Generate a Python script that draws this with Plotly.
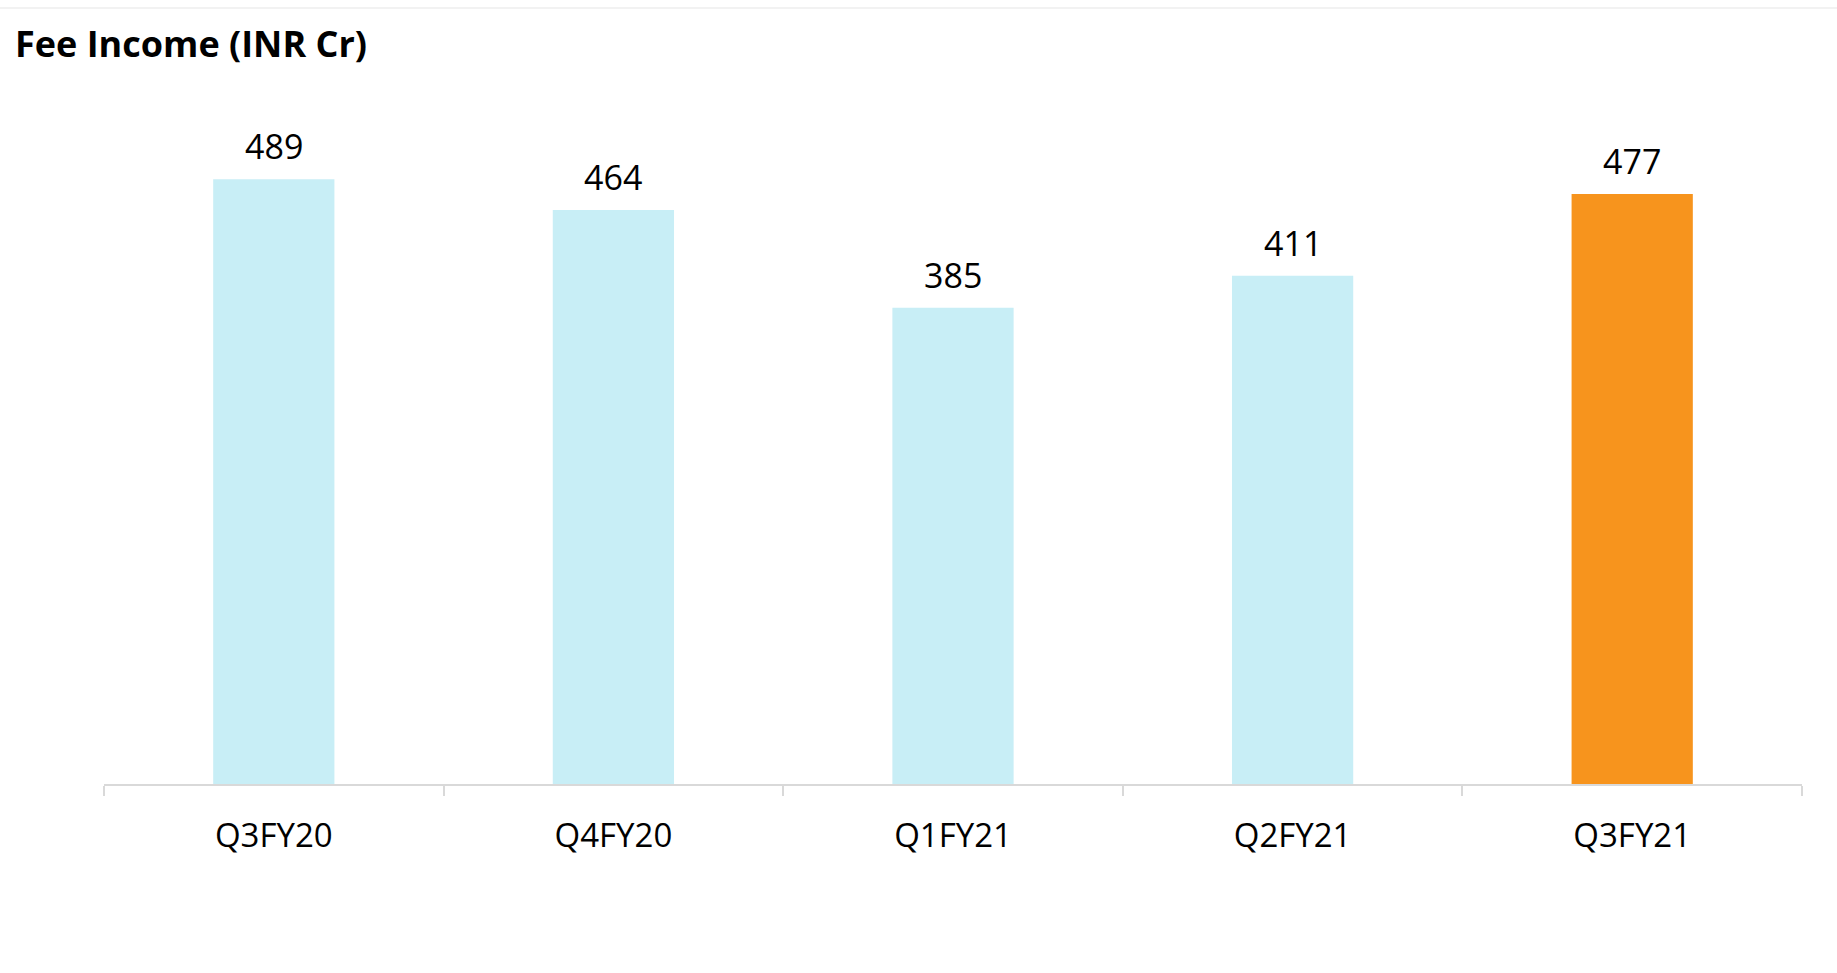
import plotly.graph_objects as go

categories = ["Q3FY20", "Q4FY20", "Q1FY21", "Q2FY21", "Q3FY21"]
values = [489, 464, 385, 411, 477]
colors = ["#C8EEF6", "#C8EEF6", "#C8EEF6", "#C8EEF6", "#F7941D"]
title_text = "Fee Income (INR Cr)"

fig = go.Figure(go.Bar(
    x=categories, y=values, marker_color=colors, marker_line_width=0,
    width=0.357, hoverinfo="skip",
))

for c, v in zip(categories, values):
    fig.add_annotation(x=c, y=v, text=str(v), showarrow=False, yanchor="bottom",
                       yshift=8, font=dict(family="Open Sans", size=34, color="#000000"))

fig.update_layout(
    width=1837, height=973,
    margin=dict(l=104, r=35, t=100, b=189),
    paper_bgcolor="white", plot_bgcolor="white",
    showlegend=False,
    title=dict(text="<b>" + title_text + "</b>", x=15/1837, xanchor="left", xref="container",
               y=1-44/973, yanchor="middle", yref="container",
               font=dict(family="Open Sans", size=36, color="#000000")),
    bargap=0.643,
)
fig.update_xaxes(
    showline=True, linecolor="#D9D9D9", linewidth=2,
    ticks="outside", ticklen=10, tickcolor="#D9D9D9", tickwidth=2,
    tickson="boundaries", ticklabelstandoff=21,
    tickfont=dict(family="Open Sans", size=33, color="#000000"),
    showgrid=False,
)
fig.update_yaxes(range=[0, 553], visible=False, showgrid=False)

fig.add_shape(type="line", xref="paper", yref="paper", x0=-0.07, x1=1.03,
              y0=1.1345, y1=1.1345, line=dict(color="#F2F2F2", width=2))

fig.write_html("out.html")
